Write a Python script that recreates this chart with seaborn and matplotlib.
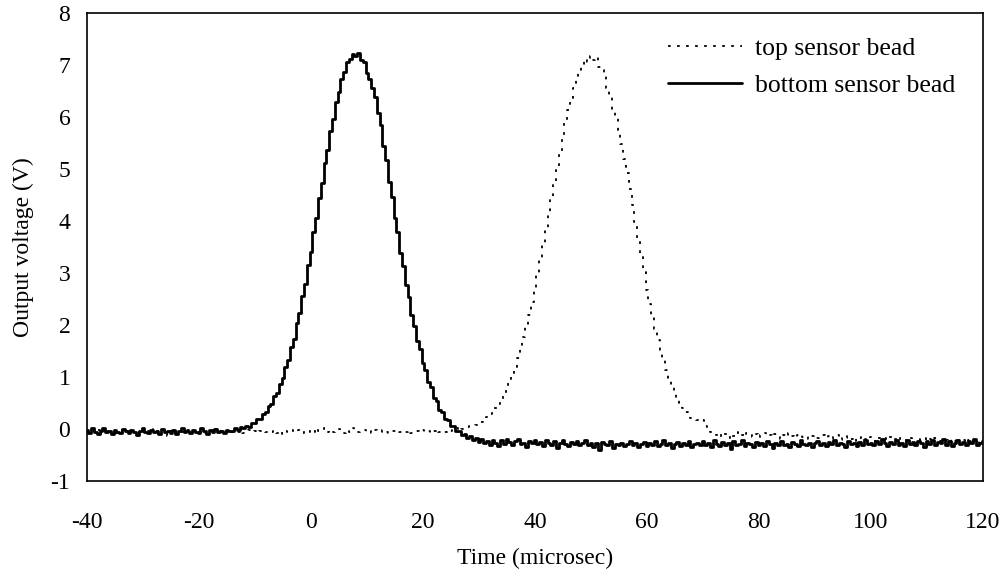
import numpy as np
import pandas as pd
import matplotlib
matplotlib.use("Agg")
import matplotlib.pyplot as plt
import seaborn as sns

# ---------------- data (0.5 microsecond sampling) ----------------
SAMPLE_START_US = -40.0
SAMPLE_STEP_US = 0.5

# bottom sensor bead (solid)
bottom_pre = [  # t = -40 .. -14.5
    -0.02, -0.07, 0.01, -0.05, -0.09, -0.03, 0.02, -0.06, -0.04, -0.10,
    -0.01, -0.05, -0.08, 0.00, -0.04, -0.07, -0.02, -0.06, -0.11, -0.03,
    0.01, -0.05, -0.08, -0.02, -0.06, -0.04, -0.09, 0.00, -0.05, -0.03,
    -0.07, -0.02, -0.10, -0.04, 0.02, -0.06, -0.03, -0.08, -0.01, -0.05,
    -0.07, 0.01, -0.04, -0.09, -0.02, -0.06, 0.00, -0.05, -0.03, -0.08,
    -0.01, -0.04]
bottom_rise = [  # t = -14 .. 8
    -0.03, 0.01, -0.02, 0.04, 0.01, 0.06, 0.03, 0.11, 0.12, 0.20,
    0.19, 0.29, 0.33, 0.44, 0.49, 0.63, 0.70, 0.87, 0.98, 1.19,
    1.33, 1.58, 1.74, 2.03, 2.24, 2.56, 2.79, 3.15, 3.41, 3.79,
    4.06, 4.45, 4.73, 5.11, 5.36, 5.74, 5.96, 6.29, 6.48, 6.74,
    6.86, 7.06, 7.11, 7.22, 7.18]
bottom_fall = [  # t = 8.5 .. 30
    7.23, 7.10, 7.05, 6.85, 6.73, 6.55, 6.38, 6.08, 5.84, 5.45,
    5.17, 4.75, 4.46, 4.05, 3.78, 3.39, 3.13, 2.76, 2.53, 2.19,
    1.99, 1.69, 1.53, 1.26, 1.13, 0.90, 0.80, 0.60, 0.54, 0.37,
    0.33, 0.19, 0.17, 0.05, 0.05, -0.04, -0.03, -0.12, -0.09, -0.18,
    -0.14, -0.22, -0.18, -0.25]
bottom_post = [  # t = 30.5 .. 120
    -0.20, -0.27, -0.23, -0.30, -0.21, -0.26, -0.33, -0.22, -0.28, -0.19,
    -0.25, -0.31, -0.24, -0.20, -0.29, -0.26, -0.34, -0.23, -0.27, -0.21,
    -0.29, -0.25, -0.32, -0.22, -0.27, -0.30, -0.24, -0.36, -0.26, -0.21,
    -0.28, -0.33, -0.25, -0.29, -0.23, -0.31, -0.27, -0.22, -0.30, -0.26,
    -0.34, -0.27, -0.40, -0.25, -0.29, -0.31, -0.24, -0.37, -0.28, -0.30,
    -0.26, -0.33, -0.29, -0.23, -0.31, -0.27, -0.35, -0.28, -0.25, -0.32,
    -0.27, -0.30, -0.24, -0.33, -0.28, -0.21, -0.31, -0.26, -0.36, -0.29,
    -0.25, -0.32, -0.27, -0.30, -0.23, -0.34, -0.28, -0.26, -0.31, -0.24,
    -0.30, -0.26, -0.35, -0.22, -0.29, -0.33, -0.25, -0.31, -0.27, -0.38,
    -0.24, -0.30, -0.28, -0.21, -0.32, -0.26, -0.29, -0.35, -0.25, -0.30,
    -0.27, -0.33, -0.24, -0.29, -0.37, -0.26, -0.31, -0.23, -0.30, -0.28,
    -0.34, -0.25, -0.29, -0.32, -0.22, -0.28, -0.31, -0.26, -0.35, -0.27,
    -0.24, -0.30, -0.27, -0.33, -0.25, -0.29, -0.21, -0.31, -0.26, -0.28,
    -0.34, -0.23, -0.29, -0.27, -0.32, -0.25, -0.30, -0.22, -0.28, -0.26,
    -0.31, -0.24, -0.29, -0.20, -0.27, -0.33, -0.25, -0.28, -0.22, -0.30,
    -0.26, -0.32, -0.21, -0.28, -0.25, -0.30, -0.23, -0.27, -0.34, -0.24,
    -0.28, -0.22, -0.31, -0.25, -0.27, -0.20, -0.30, -0.24, -0.33, -0.26,
    -0.21, -0.29, -0.25, -0.31, -0.23, -0.27, -0.19, -0.30, -0.26, -0.24]

# top sensor bead (dotted)
top_pre = [  # t = -40 .. 27.5
    -0.03, -0.06, -0.01, -0.05, -0.02, -0.08, -0.04, 0.00, -0.06, -0.03,
    -0.13, -0.05, -0.02, -0.07, -0.04, -0.01, -0.06, -0.03, -0.05, -0.09,
    -0.02, -0.05, -0.04, 0.01, -0.06, -0.03, -0.07, -0.02, -0.05, -0.14,
    -0.04, -0.01, -0.06, -0.03, -0.05, -0.08, -0.02, -0.04, -0.06, -0.01,
    -0.05, -0.03, -0.07, -0.02, -0.04, -0.06, 0.00, -0.05, -0.03, -0.08,
    -0.04, -0.02, -0.06, -0.03, -0.05, -0.01, -0.07, -0.04, -0.02, -0.06,
    -0.03, -0.08, -0.04, -0.01, -0.06, -0.03, -0.05, -0.02, -0.07, -0.04,
    -0.09, -0.03, -0.05, -0.01, -0.06, -0.04, -0.02, -0.07, -0.03, -0.05,
    -0.02, -0.06, 0.01, -0.04, -0.03, 0.02, -0.05, -0.01, -0.06, -0.03,
    0.00, -0.04, -0.07, -0.02, -0.05, 0.01, -0.03, -0.06, -0.04, -0.02,
    -0.05, -0.03, -0.07, -0.01, -0.04, -0.06, -0.02, -0.05, -0.08, -0.03,
    -0.04, -0.01, -0.06, -0.03, -0.05, -0.02, -0.07, -0.04, -0.03, -0.06,
    -0.02, -0.05, -0.03, -0.07, -0.04, 0.00, -0.06, -0.03, -0.05, -0.01,
    -0.04, -0.02, 0.01, -0.03, 0.00, 0.02]
top_peak = [  # t = 28 .. 72
    0.03, 0.05, 0.06, 0.08, 0.11, 0.14, 0.18, 0.23, 0.28, 0.34,
    0.40, 0.48, 0.57, 0.67, 0.78, 0.91, 1.05, 1.20, 1.37, 1.56,
    1.76, 1.97, 2.20, 2.45, 2.71, 2.98, 3.26, 3.55, 3.84, 4.15,
    4.45, 4.75, 5.05, 5.34, 5.62, 5.88, 6.13, 6.36, 6.56, 6.74,
    6.89, 6.98, 7.12, 7.06, 7.18,
    7.09, 7.16, 6.96, 6.90, 6.78, 6.55, 6.38, 6.15, 5.98, 5.75,
    5.48, 5.20, 4.92, 4.62, 4.30, 3.98, 3.66, 3.34, 3.02, 2.67,
    2.41, 2.16, 1.92, 1.71, 1.51, 1.32, 1.14, 0.99, 0.85, 0.72,
    0.60, 0.50, 0.41, 0.33, 0.27, 0.21, 0.20, 0.18, 0.19, 0.17,
    0.06, -0.02, -0.06, -0.10]
top_post = [  # t = 72.5 .. 120
    -0.12, -0.08, -0.15, -0.10, -0.17, -0.09, -0.13, -0.06, -0.14, -0.11,
    -0.16, -0.08, -0.12, -0.15, -0.10, -0.18, -0.11, -0.07, -0.14, -0.12,
    -0.16, -0.10, -0.13, -0.19, -0.11, -0.15, -0.08, -0.14, -0.17, -0.12,
    -0.10, -0.16, -0.13, -0.20, -0.14, -0.11, -0.17, -0.15, -0.12, -0.18,
    -0.14, -0.19, -0.16, -0.12, -0.21, -0.15, -0.18, -0.13, -0.20, -0.16,
    -0.23, -0.17, -0.14, -0.19, -0.22, -0.16, -0.18, -0.25, -0.17, -0.20,
    -0.18, -0.22, -0.16, -0.21, -0.19, -0.24, -0.17, -0.20, -0.23, -0.18,
    -0.21, -0.26, -0.19, -0.22, -0.17, -0.24, -0.20, -0.23, -0.18, -0.21,
    -0.24, -0.19, -0.22, -0.26, -0.20, -0.23, -0.18, -0.25, -0.21, -0.27,
    -0.22, -0.19, -0.24, -0.21, -0.26, -0.23]

series_labels = ["top sensor bead", "bottom sensor bead"]
x_ticks = [-40, -20, 0, 20, 40, 60, 80, 100, 120]
y_ticks = [-1, 0, 1, 2, 3, 4, 5, 6, 7, 8]
x_label = "Time (microsec)"
y_label = "Output voltage (V)"

# ---------------- assemble ----------------
bottom_v = np.array(bottom_pre + bottom_rise + bottom_fall + bottom_post)
top_v = np.array(top_pre + top_peak + top_post)
time_us = SAMPLE_START_US + SAMPLE_STEP_US * np.arange(len(bottom_v))

df_top = pd.DataFrame({"t": time_us, "v": top_v})
df_bot = pd.DataFrame({"t": time_us, "v": bottom_v})

# ---------------- plot ----------------
sns.set_style("white")
plt.rcParams["font.family"] = ["Liberation Serif", "DejaVu Serif"]
plt.rcParams["font.size"] = 17
plt.rcParams["text.color"] = "black"
plt.rcParams["axes.labelcolor"] = "black"
plt.rcParams["xtick.color"] = "black"
plt.rcParams["ytick.color"] = "black"

fig = plt.figure(figsize=(10.06, 5.77), dpi=100)
ax = fig.add_axes([0.0865, 0.1664, 0.8906, 0.8111])

sns.lineplot(data=df_top, x="t", y="v", ax=ax, color="black", lw=1.3,
             linestyle=(0, (1.5, 3.5)), drawstyle="steps-mid",
             estimator=None, sort=False, label=series_labels[0])
sns.lineplot(data=df_bot, x="t", y="v", ax=ax, color="black", lw=2.0,
             drawstyle="steps-mid", estimator=None, sort=False,
             label=series_labels[1])

ax.set_xlim(x_ticks[0], x_ticks[-1])
ax.set_ylim(y_ticks[0], y_ticks[-1])
ax.set_xticks(x_ticks)
ax.set_yticks(y_ticks)
ax.set_xticklabels([str(v) for v in x_ticks])
ax.set_yticklabels([str(v) for v in y_ticks])
ax.tick_params(axis="both", direction="in", length=5.5, width=1.0,
               color="black", labelsize=17, labelcolor="black")
ax.tick_params(axis="x", pad=22)
ax.tick_params(axis="y", pad=12)
for s in ax.spines.values():
    s.set_visible(True)
    s.set_color("black")
    s.set_linewidth(1.2)

ax.set_xlabel(x_label, fontsize=17, labelpad=11, color="black")
ax.set_ylabel(y_label, fontsize=17, labelpad=12, color="black")

leg = ax.legend(loc="upper left", bbox_to_anchor=(0.648, 0.948),
                frameon=False, fontsize=18.5, handlelength=2.9,
                handletextpad=0.5, labelspacing=0.55, borderpad=0,
                borderaxespad=0)
for txt in leg.get_texts():
    txt.set_color("black")

fig.savefig("out.png", dpi=100, facecolor="white")
